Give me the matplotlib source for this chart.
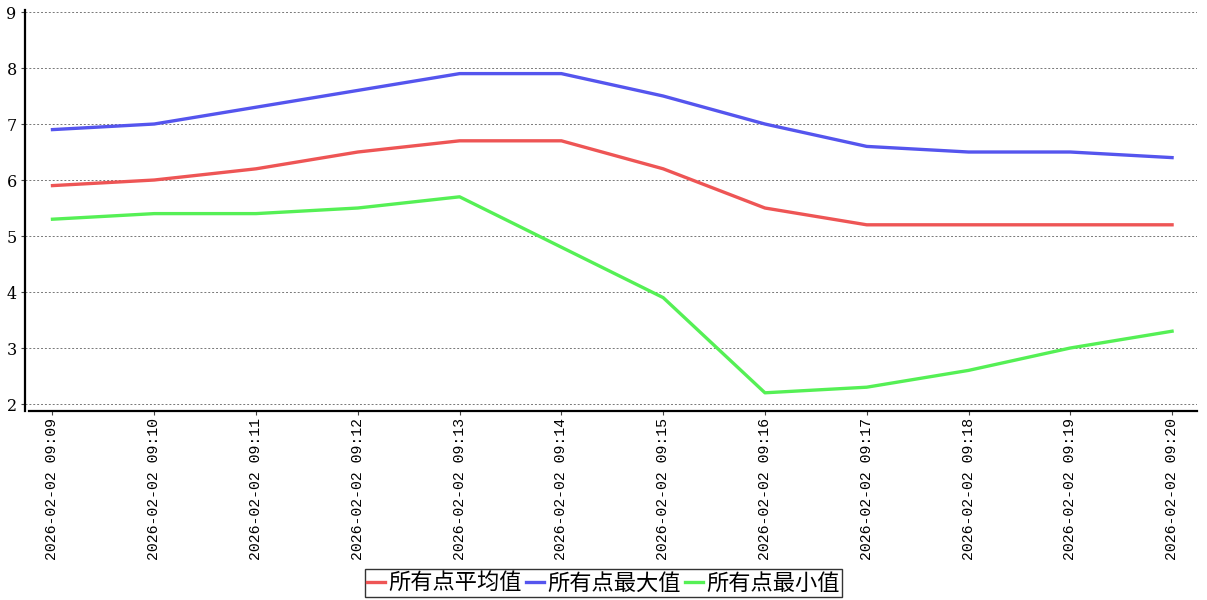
import matplotlib
matplotlib.use("Agg")
import matplotlib.pyplot as plt

times = ["2026-02-02 09:%02d" % m for m in range(9, 21)]
avg_vals = [5.9, 6.0, 6.2, 6.5, 6.7, 6.7, 6.2, 5.5, 5.2, 5.2, 5.2, 5.2]
max_vals = [6.9, 7.0, 7.3, 7.6, 7.9, 7.9, 7.5, 7.0, 6.6, 6.5, 6.5, 6.4]
min_vals = [5.3, 5.4, 5.4, 5.5, 5.7, 4.8, 3.9, 2.2, 2.3, 2.6, 3.0, 3.3]
series_names = ["所有点平均值", "所有点最大值", "所有点最小值"]
colors = ["#ee5555", "#5555ee", "#55f055"]
yticks = [2, 3, 4, 5, 6, 7, 8, 9]

fig = plt.figure(figsize=(12.07, 6.0), dpi=100)
ax = fig.add_axes([25 / 1207, 1 - 411 / 600, 1172 / 1207, 401 / 600])

x = list(range(len(times)))
for vals, name, c in zip([avg_vals, max_vals, min_vals], series_names, colors):
    ax.plot(x, vals, color=c, lw=2.4, label=name, solid_joinstyle="round")

ax.set_xlim(-0.27, len(times) - 1 + 0.245)
ax.set_ylim(1.875, 9.036)
ax.set_yticks(yticks)
ax.set_yticklabels([str(v) for v in yticks], family="DejaVu Serif", fontsize=11.5)
ax.set_xticks(x)
ax.set_xticklabels(times, rotation=90, family="Liberation Mono", fontsize=10.7)
ax.grid(axis="y", color="#777777", ls=(0, (2, 2)), lw=0.7)
ax.tick_params(axis="both", length=3, width=0.8, color="#444444", pad=3)
ax.tick_params(axis="x", pad=2)

for s in ["top", "right"]:
    ax.spines[s].set_visible(False)
ax.spines["left"].set_linewidth(1.6)
ax.spines["bottom"].set_linewidth(1.6)
ax.spines["bottom"].set_bounds(-0.23, len(times) - 1 + 0.245)

leg = fig.legend(loc="lower center", bbox_to_anchor=(0.5, 0.0), ncol=3,
                 prop={"family": ["Noto Sans CJK SC", "DejaVu Sans"], "size": 16},
                 handlelength=0.8, handletextpad=0.15, columnspacing=0.2,
                 borderpad=0.1, borderaxespad=0.15, frameon=True, fancybox=False)
leg.get_frame().set_edgecolor("black")
leg.get_frame().set_linewidth(1.0)

fig.savefig("out.png", dpi=100)
